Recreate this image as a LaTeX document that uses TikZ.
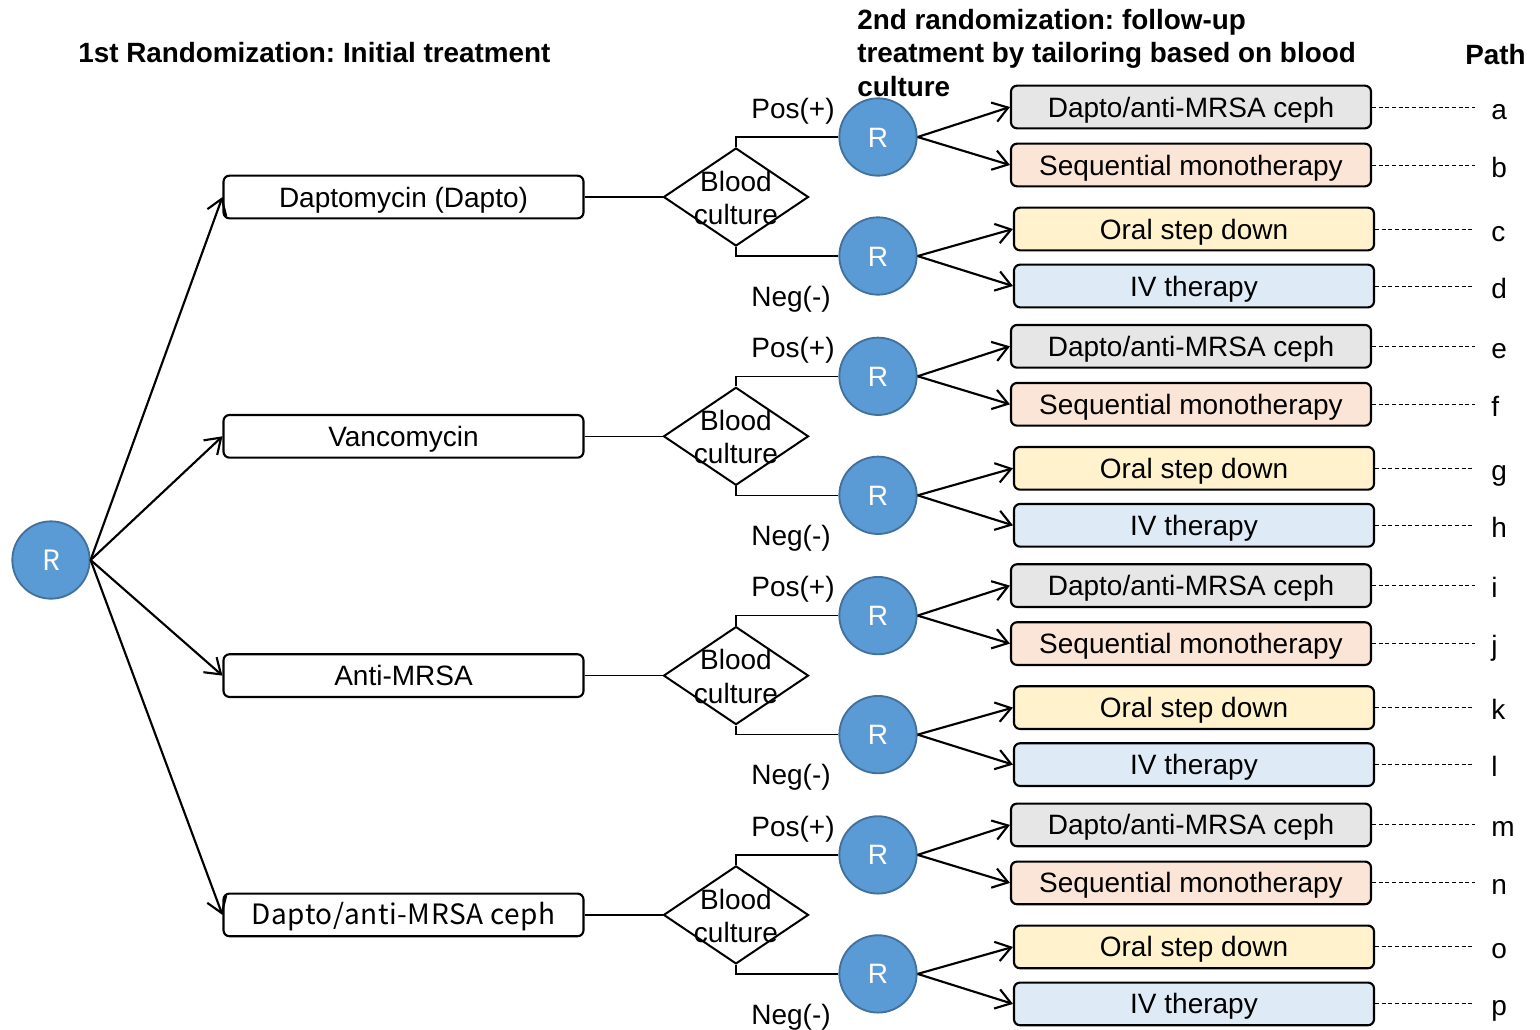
\documentclass[tikz,border=0pt]{standalone}
\usepackage{fontspec}
\setmainfont{Liberation Sans}
\newfontfamily\jpfont[LetterSpace=2]{Noto Sans CJK JP}
\usetikzlibrary{shapes.geometric,arrows.meta}
\definecolor{rblue}{HTML}{5B9BD5}
\definecolor{rborder}{HTML}{41719C}
\definecolor{boxgray}{HTML}{E7E6E6}
\definecolor{boxpeach}{HTML}{FBE5D6}
\definecolor{boxyellow}{HTML}{FFF2CC}
\definecolor{boxblue}{HTML}{DEEBF7}
\frenchspacing

\tikzset{
  txt/.style={font=\fontsize{21}{25}\selectfont},
  hdr/.style={font=\fontsize{20.9}{25}\selectfont\bfseries, inner sep=0},
  rnode/.style={circle, fill=rblue, draw=rborder, line width=1.4pt,
    minimum size=58pt, inner sep=0, text=white, txt,
    text height=15pt, text depth=0pt},
  tbox/.style={draw, rounded corners=4.5pt, line width=1.6pt,
    minimum width=270pt, minimum height=32pt, inner sep=0, txt,
    text height=15pt, text depth=0pt},
  cbox/.style={tbox, fill=#1},
  dia/.style={diamond, draw, line width=1.5pt, minimum width=108.75pt,
    minimum height=73.5pt, inner sep=0},
  arr/.style={line width=1.6pt, -{Straight Barb[length=11pt,width=15pt,line width=1.6pt]}},
  thinln/.style={line width=0.9pt},
  dashln/.style={line width=0.7pt, dash pattern=on 3pt off 2pt},
}

\begin{document}
\begin{tikzpicture}[x=0.75pt,y=-0.75pt]
\useasboundingbox (0,0) rectangle (1540,1029);

% headers
\node[hdr, anchor=base west] (h1) at (78,62) {1st Randomization: Initial treatment};
\node[hdr, anchor=base west] (h2a) at (857,29) {2nd randomization: follow-up};
\node[hdr, anchor=base west] (h2b) at (857,62) {treatment by tailoring based on blood};
\node[hdr, anchor=base west] (h2c) at (857,96) {culture};
\node[hdr, anchor=base west] (hp) at (1465,64) {Path};

% first randomization
\node[rnode, font=\fontsize{21}{24}\jpfont] (R0) at (51,560) {R};

\foreach \i/\lab/\la/\lb/\lc/\ld in {
  0/{Daptomycin (Dapto)}/a/b/c/d,
  1/{Vancomycin}/e/f/g/h,
  2/{Anti-MRSA}/i/j/k/l,
  3/{\jpfont Dapto/anti-MRSA ceph}/m/n/o/p}{
  \pgfmathsetmacro\yo{239.3*\i}
  % initial treatment box
  \node[tbox] (t\i) at (403.5,{197+\yo}) {\lab};
  \draw[arr] (R0.east) -- (t\i.west);
  % blood culture decision
  \node[dia] (d\i) at (736,{197+\yo}) {};
  \node[txt, align=center, inner sep=0] (bc\i) at (736,{198+\yo}) {Blood\\culture};
  \draw[thinln] (t\i.east) -- (d\i.west);
  % second randomization
  \node[rnode] (rp\i) at (878,{137+\yo}) {R};
  \node[rnode] (rn\i) at (878,{256+\yo}) {R};
  \draw[thinln] (d\i.north) |- (rp\i.west);
  \draw[thinln] (d\i.south) |- (rn\i.west);
  \node[txt] (pos\i) at (793,{111+\yo}) {Pos(+)};
  \node[txt] (neg\i) at (791,{299+\yo}) {Neg(-)};
  % follow-up treatments
  \node[cbox=boxgray]   (ba\i) at (1191,{107+\yo}) {Dapto/anti-MRSA ceph};
  \node[cbox=boxpeach]  (bb\i) at (1191,{165+\yo}) {Sequential monotherapy};
  \node[cbox=boxyellow] (bc\i x) at (1194,{229+\yo}) {Oral step down};
  \node[cbox=boxblue]   (bd\i) at (1194,{286+\yo}) {IV therapy};
  \draw[arr] (rp\i.east) -- (ba\i.west);
  \draw[arr] (rp\i.east) -- (bb\i.west);
  \draw[arr] (rn\i.east) -- (bc\i x.west);
  \draw[arr] (rn\i.east) -- (bd\i.west);
  % path letters
  \node[txt, anchor=base west, inner sep=0] (pa\i) at (1491,{119+\yo}) {\la};
  \node[txt, anchor=base west, inner sep=0] (pb\i) at (1491,{177+\yo}) {\lb};
  \node[txt, anchor=base west, inner sep=0] (pc\i) at (1491,{241+\yo}) {\lc};
  \node[txt, anchor=base west, inner sep=0] (pd\i) at (1491,{298+\yo}) {\ld};
  \draw[dashln] (ba\i.east) -- ([xshift=-12pt]pa\i.west |- ba\i.east);
  \draw[dashln] (bb\i.east) -- ([xshift=-12pt]pb\i.west |- bb\i.east);
  \draw[dashln] (bc\i x.east) -- ([xshift=-12pt]pc\i.west |- bc\i x.east);
  \draw[dashln] (bd\i.east) -- ([xshift=-12pt]pd\i.west |- bd\i.east);
}
\end{tikzpicture}
\end{document}
